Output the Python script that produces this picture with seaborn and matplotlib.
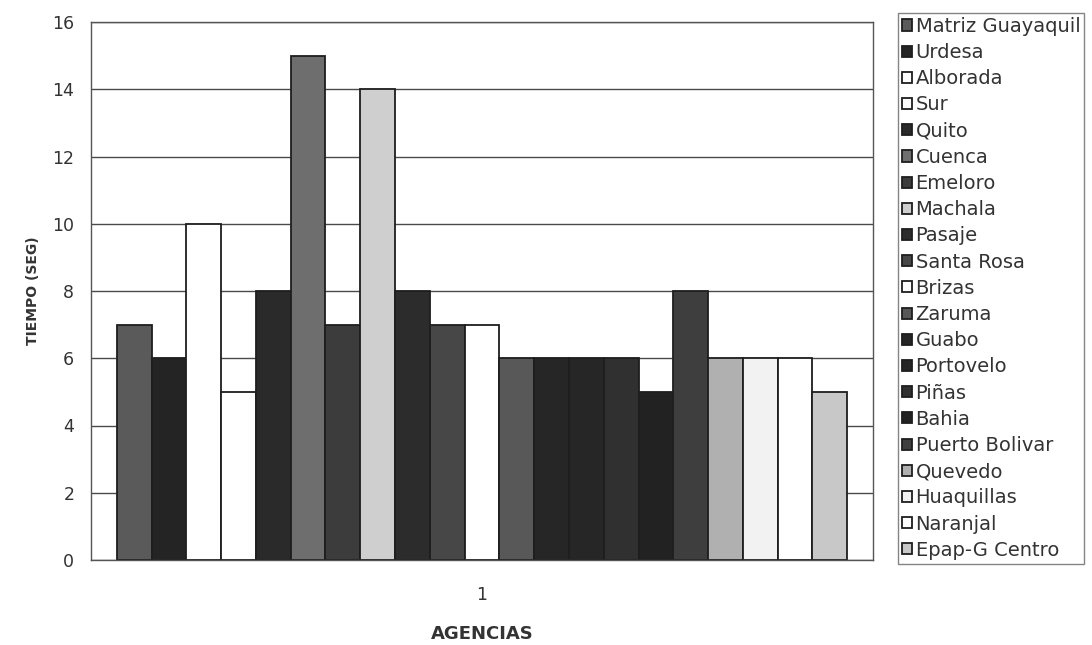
import pandas as pd
import numpy as np
import matplotlib.pyplot as plt
import seaborn as sns

agencias = [
    "Matriz Guayaquil", "Urdesa", "Alborada", "Sur", "Quito", "Cuenca",
    "Emeloro", "Machala", "Pasaje", "Santa Rosa", "Brizas", "Zaruma",
    "Guabo", "Portovelo", "Piñas", "Bahia", "Puerto Bolivar", "Quevedo",
    "Huaquillas", "Naranjal", "Epap-G Centro",
]
tiempos = [7, 6, 10, 5, 8, 15, 7, 14, 8, 7, 7, 6, 6, 6, 6, 5, 8, 6, 6, 6, 5]
colores = [
    "#5a5a5a", "#242424", "#ffffff", "#ffffff", "#2a2a2a", "#6e6e6e",
    "#3c3c3c", "#cfcfcf", "#2c2c2c", "#474747", "#ffffff", "#585858",
    "#262626", "#262626", "#303030", "#222222", "#3e3e3e", "#b0b0b0",
    "#f2f2f2", "#ffffff", "#c8c8c8",
]
grupo = ["1"] * len(agencias)

df = pd.DataFrame({"grupo": grupo, "agencia": agencias, "tiempo": tiempos})

sns.set_style("white")
plt.rcParams["font.family"] = ["DejaVu Sans"]

fig = plt.figure(figsize=(10.92, 6.45), dpi=100)
ax = fig.add_axes([91 / 1092, 85 / 645, 782 / 1092, 538 / 645])

sns.barplot(
    data=df, x="grupo", y="tiempo", hue="agencia",
    palette=colores, width=0.934, gap=0,
    edgecolor="#1e1e1e", linewidth=1.3, ax=ax,
)

ax.set_ylim(0, 16)
ax.set_yticks(np.arange(0, 17, 2))
ax.yaxis.grid(True, color="#4a4a4a", linewidth=1.0)
ax.set_axisbelow(True)
for s in ax.spines.values():
    s.set_color("#555555")
    s.set_linewidth(1.0)

ax.tick_params(axis="y", direction="out", length=4, width=1, color="#555555",
               labelsize=12.5, labelcolor="#333333", pad=8)
ax.tick_params(axis="x", length=0, labelsize=12.5, labelcolor="#333333", pad=19)

ax.set_ylabel("TIEMPO (SEG)", fontsize=10, fontweight="bold", color="#333333", labelpad=9)
ax.set_xlabel("AGENCIAS", fontsize=13, fontweight="bold", color="#333333", labelpad=15)

handles, labels = ax.get_legend_handles_labels()
if ax.legend_:
    ax.legend_.remove()
leg = fig.legend(
    handles, labels, loc="upper left",
    bbox_to_anchor=(898 / 1092, 1 - 13 / 645),
    fontsize=14, frameon=True, fancybox=False, edgecolor="#666666",
    handlelength=0.5, handleheight=0.5, handletextpad=0.2,
    labelspacing=0.37, borderpad=0.2, borderaxespad=0,
)
leg.get_frame().set_linewidth(1.0)
for t in leg.get_texts():
    t.set_color("#333333")

fig.savefig("out.png", dpi=100)
